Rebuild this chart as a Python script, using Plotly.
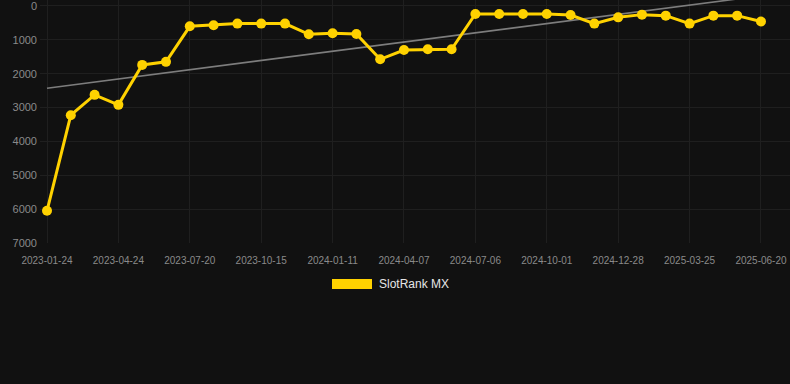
import numpy as np
import plotly.graph_objects as go

dates = [
    "2023-01-24", "2023-02-23", "2023-03-25", "2023-04-24", "2023-05-23", "2023-06-21",
    "2023-07-20", "2023-08-18", "2023-09-16", "2023-10-15", "2023-11-13", "2023-12-13",
    "2024-01-11", "2024-02-09", "2024-03-09", "2024-04-07", "2024-05-07", "2024-06-06",
    "2024-07-06", "2024-08-04", "2024-09-02", "2024-10-01", "2024-10-30", "2024-11-29",
    "2024-12-28", "2025-01-26", "2025-02-24", "2025-03-25", "2025-04-23", "2025-05-22",
    "2025-06-20",
]
rank_mx = [
    6050, 3225, 2625, 2920, 1740, 1650, 600, 570, 520, 520, 520, 835, 805, 825, 1575,
    1300, 1280, 1280, 236, 236, 236, 236, 265, 520, 335, 255, 285, 520, 285, 285, 460,
]
tick_labels = dates[::3]
y_ticks = [0, 1000, 2000, 3000, 4000, 5000, 6000, 7000]
series_name = "SlotRank MX"

BG = "#111111"
GOLD = "#FFD200"
GRID = "#1f1f1f"
TICK = "#8a8a8a"

idx = np.arange(len(rank_mx))
slope, intercept = np.polyfit(idx, rank_mx, 1)
trend = intercept + slope * idx

fig = go.Figure()
fig.add_trace(go.Scatter(
    x=dates, y=trend, mode="lines",
    line=dict(color="#7d7d7d", width=1.6), showlegend=False, hoverinfo="skip",
))
fig.add_trace(go.Scatter(
    x=dates, y=rank_mx, mode="lines+markers", name=series_name,
    line=dict(color=GOLD, width=3), marker=dict(color=GOLD, size=10),
    showlegend=False,
))

fig.update_layout(
    width=790, height=384,
    paper_bgcolor=BG, plot_bgcolor=BG,
    margin=dict(l=40, r=0, t=0, b=141),
    font=dict(family="Liberation Sans, Arial, sans-serif", color=TICK),
    showlegend=False,
    xaxis=dict(
        type="category", range=[-0.294, 31.22],
        tickmode="array", tickvals=tick_labels, ticktext=tick_labels,
        tickfont=dict(size=10, color=TICK),
        showgrid=True, gridcolor=GRID, gridwidth=1,
        zeroline=False, showline=False, ticks="",
        ticklabelstandoff=10, ticklabeloverflow="allow",
    ),
    yaxis=dict(
        range=[7000, -177], tickvals=y_ticks,
        tickfont=dict(size=11, color=TICK),
        showgrid=True, gridcolor=GRID, gridwidth=1,
        zeroline=False, showline=False, ticks="",
        ticklabelstandoff=2, ticklabeloverflow="allow",
    ),
)

# legend drawn as swatch + text
fig.add_shape(type="rect", xref="paper", yref="paper",
              x0=(332 - 40) / 750, x1=(372 - 40) / 750,
              y0=-(289 - 243) / 243, y1=-(279 - 243) / 243,
              fillcolor=GOLD, line=dict(width=0))
fig.add_annotation(xref="paper", yref="paper",
                   x=(377 - 40) / 750, y=-(284 - 243) / 243,
                   xanchor="left", yanchor="middle", showarrow=False,
                   text=series_name, font=dict(size=12, color="#e6e6e6"))

fig.write_html("out.html", config={"displayModeBar": False})

with open("out.html", "r", encoding="utf-8") as f:
    html = f.read()
html = html.replace("<head>", "<head><style>html,body{margin:0;padding:0;background:#111111;overflow:hidden}</style>", 1)
with open("out.html", "w", encoding="utf-8") as f:
    f.write(html)
